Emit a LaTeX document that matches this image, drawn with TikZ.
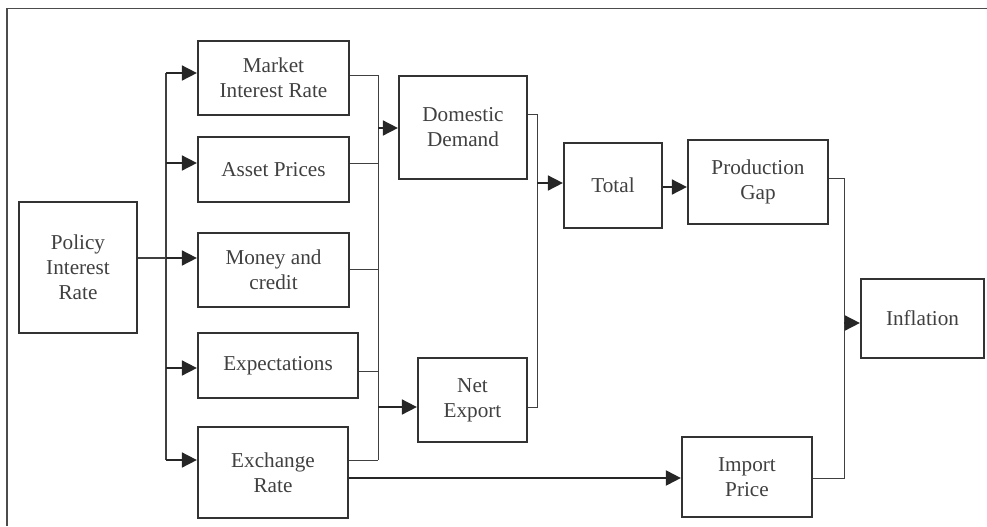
\documentclass[tikz,border=0pt]{standalone}
\usepackage{fontspec}
\setmainfont{Liberation Serif}
\usepackage{tikz}
\usetikzlibrary{positioning,arrows.meta,calc}

\begin{document}
\begin{tikzpicture}[
            x=0.5pt, y=-0.5pt,
            % Style for the boxes
            box/.style={draw=black!80, line width=1.1pt, align=center, inner sep=0pt,
                        font=\fontsize{10.6}{12.5}\selectfont, text=black!75},
            % Style for the arrows
            arr/.style={-{Triangle[length=7.5pt, width=7.5pt]}, line width=0.85pt, draw=black!85},
            % Style for the thin joining lines
            link/.style={line width=0.45pt, draw=black!75}
        ]
            \useasboundingbox (0,0) rectangle (987,526);
            % Frame (top and left edges)
            \draw[line width=0.8pt, black!70] (987,8.5) -- (7,8.5) -- (7,526);

            % --- 1. POLICY RATE ---
            \node[box, minimum width=59pt, minimum height=65.5pt] (policy) at (78,267.5) {Policy\\Interest\\Rate};

            % --- 2. CHANNELS ---
            \node[box, minimum width=75.5pt, minimum height=37pt] (market) at (273.5,78) {Market\\Interest Rate};
            \node[box, minimum width=75.5pt, minimum height=32.5pt] (asset) at (273.5,169.5) {Asset Prices};
            \node[box, minimum width=75.5pt, minimum height=37pt] (money) at (273.5,270) {Money and\\credit};
            \node[box, minimum width=80pt, minimum height=32.5pt] (expect) at (278,365.5) {Expectations};
            \node[box, minimum width=75pt, minimum height=45.5pt] (exchange) at (273,472.5) {Exchange\\Rate};

            % --- 3. DEMAND ---
            \node[box, minimum width=64pt, minimum height=51.5pt] (domestic) at (463,127.5) {Domestic\\Demand};
            \node[box, minimum width=54.5pt, minimum height=42pt] (netexp) at (472.5,400) {Net\\Export};
            \node[box, minimum width=49pt, minimum height=42.5pt] (total) at (613,185.5) {Total};

            % --- 4. PRICES ---
            \node[box, minimum width=70pt, minimum height=42pt] (prod) at (758,182) {Production\\Gap};
            \node[box, minimum width=65pt, minimum height=40pt] (import) at (747,477) {Import\\Price};
            \node[box, minimum width=61.5pt, minimum height=39.5pt] (inflation) at (922.5,318.5) {Inflation};

            % --- 5. BRANCH FROM POLICY RATE ---
            \coordinate (s1) at (166,73);
            \coordinate (s2) at (166,163);
            \coordinate (s3) at (166,258);
            \coordinate (s4) at (166,368);
            \coordinate (s5) at (166,460);
            \draw[link, line width=0.55pt] (s1) -- (s5);
            \draw[link, line width=0.55pt] (s3 -| policy.east) -- (s3);
            \draw[arr] (s1) -- (s1 -| market.west);
            \draw[arr] (s2) -- (s2 -| asset.west);
            \draw[arr] (s3) -- (s3 -| money.west);
            \draw[arr] (s4) -- (s4 -| expect.west);
            \draw[arr] (s5) -- (s5 -| exchange.west);

            % --- 6. COLLECTOR INTO DEMAND ---
            \coordinate (c1) at (378,75);
            \coordinate (c5) at (378,460);
            \draw[link] (c1) -- (c5);
            \draw[link] (market.east |- c1) -- (c1);
            \draw[link] (asset.east |- 0,163) -- (378,163);
            \draw[link] (money.east |- 0,269) -- (378,269);
            \draw[link] (expect.east |- 0,371) -- (378,371);
            \draw[link] (exchange.east |- c5) -- (c5);
            \coordinate (d1) at (378,128);
            \coordinate (d2) at (378,407);
            \draw[arr] (d1) -- (d1 -| domestic.west);
            \draw[arr] (d2) -- (d2 -| netexp.west);

            % --- 7. INTO TOTAL ---
            \coordinate (t1) at (537,114);
            \coordinate (t2) at (537,407);
            \coordinate (t0) at (537,183);
            \draw[link] (domestic.east |- t1) -- (t1) -- (t2) -- (t2 -| netexp.east);
            \draw[arr] (t0) -- (t0 -| total.west);
            \draw[arr] (total.east |- 0,187) -- (prod.west |- 0,187);

            % --- 8. INTO INFLATION ---
            \coordinate (i1) at (844,178);
            \coordinate (i2) at (844,478);
            \coordinate (i0) at (844,323);
            \draw[link] (prod.east |- i1) -- (i1) -- (i2) -- (i2 -| import.east);
            \draw[arr] (i0) -- (i0 -| inflation.west);
            \draw[arr, line width=1pt] (exchange.east |- i2) -- (import.west |- i2);

        \end{tikzpicture}
\end{document}
